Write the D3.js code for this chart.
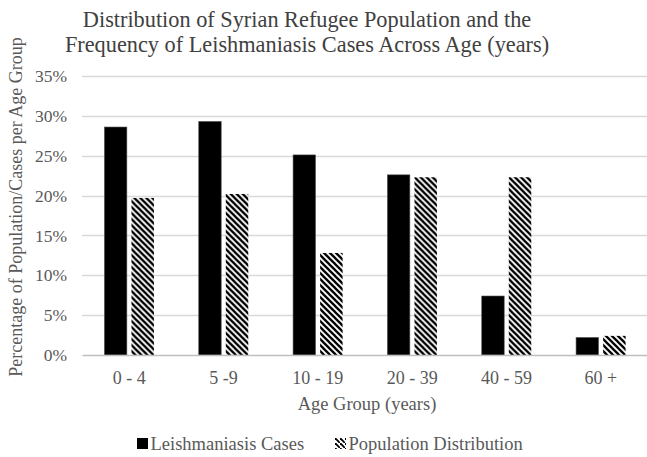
<!DOCTYPE html>
<html>
<head>
<meta charset="utf-8">
<script src="https://cdn.jsdelivr.net/npm/d3@7/dist/d3.min.js"></script>
<style>
  html, body { margin: 0; padding: 0; background: #fff; }
  svg { display: block; font-family: "Liberation Serif", "Times New Roman", serif; }
</style>
</head>
<body>
<svg id="chart" width="647" height="457"></svg>
<script>
// Age groups and the two series (percent of total per age group)
const categories = ["0 - 4", "5 -9", "10 - 19", "20 - 39", "40 - 59", "60 +"];
const seriesNames = ["Leishmaniasis Cases", "Population Distribution"];
const leishmaniasisCases = [28.6, 29.3, 25.1, 22.6, 7.4, 2.2];
const populationDistribution = [19.7, 20.2, 12.8, 22.3, 22.3, 2.4];
const yTicks = [0, 5, 10, 15, 20, 25, 30, 35];

const rows = categories.map((c, i) => ({
  category: c,
  values: [
    { series: seriesNames[0], value: leishmaniasisCases[i] },
    { series: seriesNames[1], value: populationDistribution[i] }
  ]
}));

const svg = d3.select("#chart");
const plot = { left: 82, right: 648, top: 76, bottom: 355 };
const FONT = "Liberation Serif, Times New Roman, serif";

// Diagonal stripe pattern for the population series
const defs = svg.append("defs");
const pat = defs.append("pattern")
  .attr("id", "hatch")
  .attr("patternUnits", "userSpaceOnUse")
  .attr("width", 6).attr("height", 6);
pat.append("rect").attr("width", 6).attr("height", 6).attr("fill", "#fff");
pat.append("path")
  .attr("d", "M-1,-1 L7,7 M-4,2 L1,7 M2,-4 L7,1")
  .attr("stroke", "#000")
  .attr("stroke-width", 2.3);

// Sparser stripes for the small legend swatch
const patSmall = defs.append("pattern")
  .attr("id", "hatch-legend")
  .attr("patternUnits", "userSpaceOnUse")
  .attr("width", 5).attr("height", 5);
patSmall.append("rect").attr("width", 5).attr("height", 5).attr("fill", "#fff");
patSmall.append("path")
  .attr("d", "M-1,-1 L6,6")
  .attr("stroke", "#000")
  .attr("stroke-width", 1.8);

const x = d3.scaleBand().domain(categories).range([plot.left, plot.right]);
const groupWidth = x.bandwidth() * 0.525;
const xs = d3.scaleBand().domain(seriesNames).range([0, groupWidth]).paddingInner(0.17);
const y = d3.scaleLinear().domain([0, 35]).range([plot.bottom, plot.top]);

// Gridlines
svg.append("g")
  .selectAll("line")
  .data(yTicks.filter(t => t > 0))
  .join("line")
  .attr("x1", plot.left).attr("x2", plot.right)
  .attr("y1", d => Math.round(y(d)) + 0.5).attr("y2", d => Math.round(y(d)) + 0.5)
  .attr("stroke", "#d9d9d9").attr("stroke-width", 1.3);

// Y axis labels
const yAxis = d3.axisLeft(y).tickValues(yTicks).tickFormat(d => d + "%").tickSize(0).tickPadding(15);
const yg = svg.append("g").attr("transform", `translate(${plot.left},0)`).call(yAxis);
yg.select(".domain").remove();
yg.selectAll("text").attr("font-size", 17.5).attr("fill", "#595959").attr("font-family", FONT);

// Bars
const groups = svg.append("g").selectAll("g")
  .data(rows)
  .join("g")
  .attr("transform", d => `translate(${x(d.category) + (x.bandwidth() - groupWidth) / 2},0)`);

groups.selectAll("rect")
  .data(d => d.values)
  .join("rect")
  .attr("x", d => xs(d.series))
  .attr("width", xs.bandwidth())
  .attr("y", d => y(d.value))
  .attr("height", d => y(0) - y(d.value))
  .attr("fill", d => d.series === seriesNames[0] ? "#000" : "url(#hatch)")
  .attr("stroke", d => d.series === seriesNames[0] ? "#555" : "none")
  .attr("stroke-width", 0.6);

// X axis
const xAxis = d3.axisBottom(x).tickSize(0).tickPadding(16);
const xg = svg.append("g").attr("transform", `translate(0,${plot.bottom})`).call(xAxis);
xg.select(".domain").attr("stroke", "#bfbfbf").attr("stroke-width", 1.3);
xg.selectAll("text").attr("font-size", 18).attr("fill", "#595959").attr("font-family", FONT);

// Titles
const title = svg.append("text")
  .attr("text-anchor", "middle")
  .attr("font-size", 22.3).attr("fill", "#404040");
title.append("tspan").attr("x", 307).attr("y", 27).text("Distribution of Syrian Refugee Population and the");
title.append("tspan").attr("x", 307).attr("y", 52).text("Frequency of Leishmaniasis Cases Across Age (years)");

svg.append("text")
  .attr("x", 367).attr("y", 410)
  .attr("text-anchor", "middle")
  .attr("font-size", 18.5).attr("fill", "#595959")
  .text("Age Group (years)");

svg.append("text")
  .attr("transform", "translate(22,207) rotate(-90)")
  .attr("text-anchor", "middle")
  .attr("font-size", 18).attr("fill", "#595959")
  .text("Percentage of Population/Cases per Age Group");

// Legend
const legendItems = [
  { name: seriesNames[0], fill: "#000", x: 137 },
  { name: seriesNames[1], fill: "url(#hatch-legend)", x: 335 }
];
const lg = svg.append("g").selectAll("g").data(legendItems).join("g")
  .attr("transform", d => `translate(${d.x},438)`);
lg.append("rect").attr("width", 11).attr("height", 11).attr("fill", d => d.fill);
lg.append("text").attr("x", 13.5).attr("y", 12)
  .attr("font-size", 18.5).attr("fill", "#595959")
  .text(d => d.name);
</script>
</body>
</html>
